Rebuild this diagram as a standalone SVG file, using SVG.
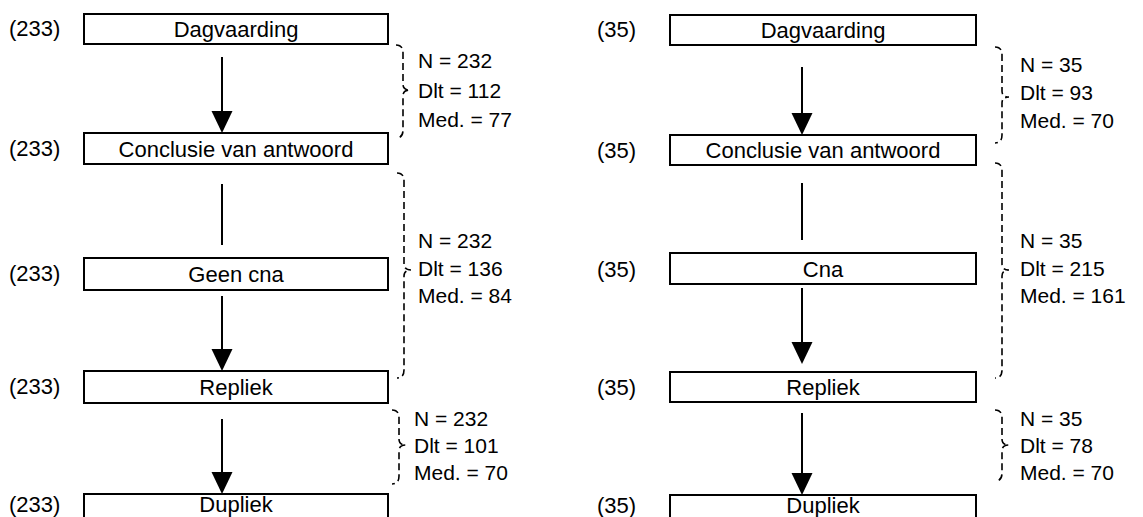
<svg xmlns="http://www.w3.org/2000/svg" width="1143" height="517" viewBox="0 0 1143 517">
<style>
  text { font-family: "Liberation Sans", Arial, sans-serif; font-size: 21px; fill: #000; }
  .nd { font-size: 22px; }
  .box { fill: #fff; stroke: #000; stroke-width: 2; }
  .lbl { text-anchor: middle; }
  .con { stroke: #000; stroke-width: 2; fill: none; }
  .brace { stroke: #000; stroke-width: 1.6; fill: none; stroke-dasharray: 7 4; }
  .head { fill: #000; }
</style>
<rect width="1143" height="517" fill="#fff"/>

<g id="connectors">
  <!-- left column -->
  <line class="con" x1="222" y1="57" x2="222" y2="115"/>
  <polygon class="head" points="211.5,111 232.5,111 222,133"/>
  <line class="con" x1="222" y1="184" x2="222" y2="245"/>
  <line class="con" x1="222" y1="296" x2="222" y2="352"/>
  <polygon class="head" points="211.5,349 232.5,349 222,371"/>
  <line class="con" x1="222" y1="419" x2="222" y2="476"/>
  <polygon class="head" points="211.5,472 232.5,472 222,494"/>
  <!-- right column -->
  <line class="con" x1="802" y1="67" x2="802" y2="116"/>
  <polygon class="head" points="791.5,113 812.5,113 802,135"/>
  <line class="con" x1="802" y1="183" x2="802" y2="240"/>
  <line class="con" x1="802" y1="288" x2="802" y2="345"/>
  <polygon class="head" points="791.5,342 812.5,342 802,364"/>
  <line class="con" x1="802" y1="413" x2="802" y2="477"/>
  <polygon class="head" points="791.5,473 812.5,473 802,495"/>
  <!-- braces -->
  <path class="brace" d="M396,45 C401,45 403,48 403,53 L403,84 Q403,90 410,90 Q403,90 403,96 L403,130 C403,135 401,138 396,138"/>
  <path class="brace" d="M397,173 C402,173 404,176 404,181 L404,264 Q404,270 411,270 Q404,270 404,276 L404,370 C404,375 402,378 397,378"/>
  <path class="brace" d="M392,410 C397,410 399,413 399,418 L399,439 Q399,445 406,445 Q399,445 399,451 L399,476 C399,481 397,484 392,484"/>
  <path class="brace" d="M995,47 C1000,47 1002,50 1002,55 L1002,91 Q1002,97 1009,97 Q1002,97 1002,103 L1002,135 C1002,140 1000,143 995,143"/>
  <path class="brace" d="M995,163 C1000,163 1002,166 1002,171 L1002,264 Q1002,270 1009,270 Q1002,270 1002,276 L1002,370 C1002,375 1000,378 995,378"/>
  <path class="brace" d="M995,410 C1000,410 1002,413 1002,418 L1002,439 Q1002,445 1009,445 Q1002,445 1002,451 L1002,473 C1002,478 1000,481 995,481"/>
</g>

<g id="stats">
  <text x="418" y="68">N = 232</text>
  <text x="418" y="98">Dlt = 112</text>
  <text x="418" y="127">Med. = 77</text>
  <text x="418" y="248">N = 232</text>
  <text x="418" y="276">Dlt = 136</text>
  <text x="418" y="303">Med. = 84</text>
  <text x="414" y="426">N = 232</text>
  <text x="414" y="453">Dlt = 101</text>
  <text x="414" y="480">Med. = 70</text>
  <text x="1020" y="72">N = 35</text>
  <text x="1020" y="100">Dlt = 93</text>
  <text x="1020" y="128">Med. = 70</text>
  <text x="1020" y="248">N = 35</text>
  <text x="1020" y="276">Dlt = 215</text>
  <text x="1020" y="303">Med. = 161</text>
  <text x="1020" y="426">N = 35</text>
  <text x="1020" y="453">Dlt = 78</text>
  <text x="1020" y="480">Med. = 70</text>
</g>

<g id="l-dagvaarding">
  <text class="nd" x="9" y="36">(233)</text>
  <rect class="box" x="84" y="14" width="304" height="30"/>
  <text class="nd lbl" x="236" y="37">Dagvaarding</text>
</g>
<g id="l-conclusie">
  <text class="nd" x="9" y="156">(233)</text>
  <rect class="box" x="84" y="133" width="304" height="31"/>
  <text class="nd lbl" x="236" y="157">Conclusie van antwoord</text>
</g>
<g id="l-geencna">
  <text class="nd" x="9" y="281">(233)</text>
  <rect class="box" x="84" y="258" width="304" height="32"/>
  <text class="nd lbl" x="236" y="282">Geen cna</text>
</g>
<g id="l-repliek">
  <text class="nd" x="9" y="394">(233)</text>
  <rect class="box" x="84" y="371" width="304" height="32"/>
  <text class="nd lbl" x="236" y="395">Repliek</text>
</g>
<g id="l-dupliek">
  <text class="nd" x="9" y="512">(233)</text>
  <rect class="box" x="84" y="494" width="304" height="40"/>
  <text class="nd lbl" x="236" y="512">Dupliek</text>
</g>

<g id="r-dagvaarding">
  <text class="nd" x="597" y="37">(35)</text>
  <rect class="box" x="670" y="15" width="306" height="30"/>
  <text class="nd lbl" x="823" y="38">Dagvaarding</text>
</g>
<g id="r-conclusie">
  <text class="nd" x="597" y="158">(35)</text>
  <rect class="box" x="670" y="135" width="306" height="30"/>
  <text class="nd lbl" x="823" y="158">Conclusie van antwoord</text>
</g>
<g id="r-cna">
  <text class="nd" x="597" y="277">(35)</text>
  <rect class="box" x="670" y="253" width="306" height="31"/>
  <text class="nd lbl" x="823" y="277">Cna</text>
</g>
<g id="r-repliek">
  <text class="nd" x="597" y="395">(35)</text>
  <rect class="box" x="670" y="372" width="306" height="30"/>
  <text class="nd lbl" x="823" y="395">Repliek</text>
</g>
<g id="r-dupliek">
  <text class="nd" x="597" y="513">(35)</text>
  <rect class="box" x="670" y="495" width="306" height="40"/>
  <text class="nd lbl" x="823" y="513">Dupliek</text>
</g>
</svg>
